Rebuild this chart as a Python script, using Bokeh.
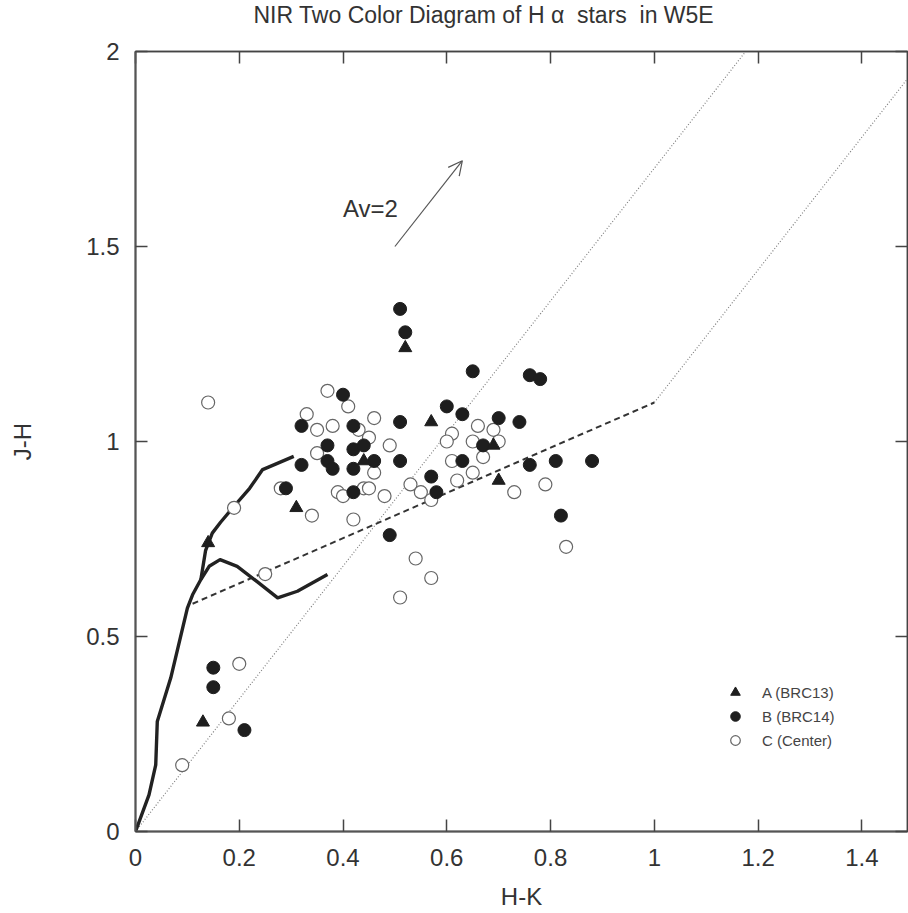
from bokeh.plotting import figure
from bokeh.models import (LinearAxis, FixedTicker, Title, Label, Arrow, OpenHead,
                          Legend, LegendItem)
from bokeh.embed import file_html
from bokeh.resources import INLINE

# ---------------- data ----------------
x_ticks = [0, 0.2, 0.4, 0.6, 0.8, 1.0, 1.2, 1.4]
x_tick_labels = ["0", "0.2", "0.4", "0.6", "0.8", "1", "1.2", "1.4"]
y_ticks = [0, 0.5, 1.0, 1.5, 2.0]
y_tick_labels = ["0", "0.5", "1", "1.5", "2"]

# Group A (BRC13) - triangles
a_hk = [0.52, 0.57, 0.44, 0.31, 0.14, 0.13, 0.70, 0.69]
a_jh = [1.24, 1.05, 0.95, 0.83, 0.74, 0.28, 0.90, 0.99]

# Group B (BRC14) - filled circles
b_hk = [0.40, 0.32, 0.42, 0.37, 0.42, 0.44, 0.37, 0.38, 0.42, 0.46, 0.32, 0.29,
        0.42, 0.49, 0.51, 0.52, 0.65, 0.76, 0.78, 0.60, 0.63, 0.51, 0.70, 0.74,
        0.67, 0.51, 0.63, 0.76, 0.81, 0.88, 0.57, 0.58, 0.82, 0.15, 0.15, 0.21]
b_jh = [1.12, 1.04, 1.04, 0.99, 0.98, 0.99, 0.95, 0.93, 0.93, 0.95, 0.94, 0.88,
        0.87, 0.76, 1.34, 1.28, 1.18, 1.17, 1.16, 1.09, 1.07, 1.05, 1.06, 1.05,
        0.99, 0.95, 0.95, 0.94, 0.95, 0.95, 0.91, 0.87, 0.81, 0.42, 0.37, 0.26]

# Group C (Center) - open circles
c_hk = [0.14, 0.37, 0.41, 0.33, 0.35, 0.38, 0.43, 0.46, 0.45, 0.49, 0.35, 0.46,
        0.28, 0.34, 0.39, 0.40, 0.44, 0.45, 0.48, 0.42, 0.19, 0.66, 0.69, 0.61,
        0.60, 0.65, 0.70, 0.67, 0.61, 0.65, 0.62, 0.79, 0.53, 0.55, 0.57, 0.73,
        0.83, 0.54, 0.57, 0.51, 0.25, 0.20, 0.18, 0.09]
c_jh = [1.10, 1.13, 1.09, 1.07, 1.03, 1.04, 1.03, 1.06, 1.01, 0.99, 0.97, 0.92,
        0.88, 0.81, 0.87, 0.86, 0.88, 0.88, 0.86, 0.80, 0.83, 1.04, 1.03, 1.02,
        1.00, 1.00, 1.00, 0.96, 0.95, 0.92, 0.90, 0.89, 0.89, 0.87, 0.85, 0.87,
        0.73, 0.70, 0.65, 0.60, 0.66, 0.43, 0.29, 0.17]

# Intrinsic loci (thick lines)
dwarf_hk = [0.0, 0.026, 0.039, 0.042, 0.068, 0.10, 0.11, 0.126, 0.142, 0.163,
            0.196, 0.235, 0.274, 0.312, 0.37]
dwarf_jh = [0.0, 0.094, 0.171, 0.282, 0.394, 0.573, 0.607, 0.646, 0.680, 0.697,
            0.680, 0.640, 0.599, 0.616, 0.659]
giant_hk = [0.126, 0.135, 0.148, 0.164, 0.19, 0.22, 0.245, 0.27, 0.305]
giant_jh = [0.646, 0.72, 0.765, 0.793, 0.834, 0.88, 0.928, 0.942, 0.962]

# CTTS locus (dashed)
ctts_hk = [0.11, 1.0]
ctts_jh = [0.584, 1.10]

# Reddening lines (dotted)
red1_hk = [0.0, 1.176]
red1_jh = [0.0, 2.0]
red2_hk = [1.0, 1.488]
red2_jh = [1.10, 1.93]

# Reddening vector Av=2
av_start = (0.50, 1.50)
av_end = (0.63, 1.72)
av_label = "Av=2"
av_label_pos = (0.40, 1.597)

title_text = "NIR Two Color Diagram of H\u00a0\u03b1\u00a0\u00a0stars\u00a0\u00a0in W5E"

FONT = "Liberation Sans"
TXT = "#333333"

p = figure(width=908, height=913, x_range=(0, 1.488), y_range=(0, 2.0),
           output_backend="svg", toolbar_location=None,
           min_border_left=135, min_border_right=1,
           min_border_top=51, min_border_bottom=82)
p.grid.visible = False
p.background_fill_color = "white"
p.border_fill_color = "white"
p.outline_line_color = "#444444"
p.outline_line_width = 1.5

# axes
for ax, ticks, labels in ((p.xaxis[0], x_ticks, x_tick_labels),
                          (p.yaxis[0], y_ticks, y_tick_labels)):
    ax.ticker = FixedTicker(ticks=ticks)
    ax.major_label_overrides = {t: l for t, l in zip(ticks, labels)}
    ax.minor_tick_line_color = None
    ax.major_tick_in = 12
    ax.major_tick_out = 0
    ax.major_tick_line_color = "#444444"
    ax.major_tick_line_width = 1.5
    ax.axis_line_color = "#555555"
    ax.axis_line_width = 2
    ax.major_label_text_font = FONT
    ax.major_label_text_font_size = "24px"
    ax.major_label_text_color = TXT
    ax.axis_label_text_font = FONT
    ax.axis_label_text_font_size = "24px"
    ax.axis_label_text_font_style = "normal"
    ax.axis_label_text_color = TXT

p.xaxis[0].axis_label = "H-K"
p.yaxis[0].axis_label = "J-H"
p.xaxis[0].major_label_standoff = 17
p.xaxis[0].axis_label_standoff = 14
p.yaxis[0].major_label_standoff = 16
p.yaxis[0].axis_label_standoff = 47

top_ax = LinearAxis(ticker=FixedTicker(ticks=x_ticks))
right_ax = LinearAxis(ticker=FixedTicker(ticks=y_ticks))
for ax, ticks in ((top_ax, x_ticks), (right_ax, y_ticks)):
    ax.major_label_overrides = {t: "" for t in ticks}
    ax.major_label_text_font_size = "1px"
    ax.major_label_text_color = None
    ax.major_label_standoff = 0
    ax.minor_tick_line_color = None
    ax.major_tick_in = 12
    ax.major_tick_out = 0
    ax.major_tick_line_color = "#444444"
    ax.major_tick_line_width = 1.5
    ax.axis_line_color = "#444444"
    ax.axis_line_width = 1.5
p.add_layout(top_ax, "above")
p.add_layout(right_ax, "right")

# invisible spacer axis between the frame and the title
spacer = LinearAxis(ticker=FixedTicker(ticks=x_ticks))
spacer.major_label_overrides = {t: "" for t in x_ticks}
spacer.major_label_text_font_size = "1px"
spacer.major_label_text_color = None
spacer.major_label_standoff = 0
spacer.minor_tick_line_color = None
spacer.major_tick_in = 0
spacer.major_tick_out = 22
spacer.major_tick_line_color = None
spacer.axis_line_color = None
p.add_layout(spacer, "above")

# title
title = Title(text=title_text, align="left", offset=118, vertical_align="top",
              text_font=FONT, text_font_size="23px", text_font_style="normal",
              text_color=TXT, standoff=0)
p.add_layout(title, "above")

# lines
p.line(red1_hk, red1_jh, line_color="#808080", line_width=1.2, line_dash="1 2")
p.line(red2_hk, red2_jh, line_color="#808080", line_width=1.2, line_dash="1 2")
p.line(ctts_hk, ctts_jh, line_color="#333333", line_width=2, line_dash="6 4")
p.line(dwarf_hk, dwarf_jh, line_color="#222222", line_width=3.4, line_join="round")
p.line(giant_hk, giant_jh, line_color="#222222", line_width=3.4, line_join="round")

# arrow
p.add_layout(Arrow(end=OpenHead(size=14, line_color="#555555", line_width=1.2),
                   x_start=av_start[0], y_start=av_start[1],
                   x_end=av_end[0], y_end=av_end[1],
                   line_color="#555555", line_width=1.2))
p.add_layout(Label(x=av_label_pos[0], y=av_label_pos[1], text=av_label, text_font=FONT,
                   text_font_size="24px", text_color=TXT, text_baseline="middle"))

# points
rc = p.scatter(c_hk, c_jh, marker="circle", size=13, fill_color="white",
               line_color="#666666", line_width=1.2)
rb = p.scatter(b_hk, b_jh, marker="circle", size=13, fill_color="#1e1e1e",
               line_color="#1e1e1e")
ra = p.scatter(a_hk, a_jh, marker="triangle", size=13, fill_color="#1e1e1e",
               line_color="#1e1e1e")

legend = Legend(items=[LegendItem(label="A (BRC13)", renderers=[ra]),
                       LegendItem(label="B (BRC14)", renderers=[rb]),
                       LegendItem(label="C (Center)", renderers=[rc])],
                location=(588, 79), border_line_color=None,
                background_fill_alpha=0, glyph_height=24, glyph_width=24,
                spacing=0, padding=5, label_standoff=15,
                label_text_font=FONT, label_text_font_size="15px",
                label_text_color="#444444", label_height=24)
p.add_layout(legend)

with open("out.html", "w") as f:
    f.write(file_html(p, INLINE))
